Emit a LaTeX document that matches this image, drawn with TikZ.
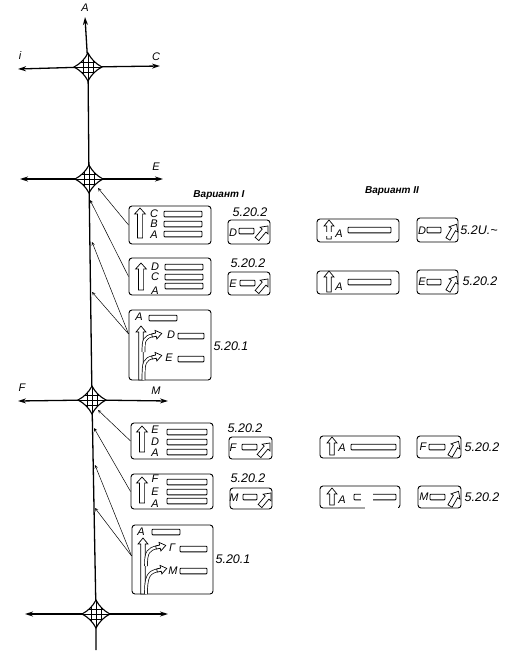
\documentclass[tikz,border=0pt]{standalone}
\usepackage{fontspec}
\usetikzlibrary{arrows.meta}
\setmainfont{Liberation Sans}
\newcommand{\signarrow}[5]{% x, y of foot, length, half width, angle
  \pgfmathsetmacro{\arrlen}{#3}
  \draw[sign,fill=white,shift={(#1,#2)},rotate=#5]
    (-#4,0) -- (-#4,-\arrlen+6) -- (-#4-2.8,-\arrlen+6) -- (0,-\arrlen) -- (#4+2.8,-\arrlen+6) -- (#4,-\arrlen+6) -- (#4,0) -- cycle;
}
\newcommand{\branch}[4]{% foot x, foot y, tip x, tip y
  \draw[sign,double=white,double distance=2.2pt] (#1,#2) .. controls (#1,#4+4) and (#3-16,#4+1) .. (#3-6,#4-1);
  \signarrow{#3-8}{#4-0.5}{10}{1.6}{-78}
}
\tikzset{
  road/.style={line width=1.3pt,>={Stealth[length=8pt,width=5pt]}},
  thinarrow/.style={->,line width=0.5pt},
  sign/.style={line width=0.7pt},
  bar/.style={line width=0.9pt,rounded corners=0.8pt},
  panel/.style={draw,line width=0.9pt,rounded corners=3pt,inner sep=0pt},
  letter/.style={font=\fontsize{11}{11}\selectfont\itshape,inner sep=0pt},
  code/.style={font=\fontsize{12.5}{12.5}\selectfont\itshape,inner sep=0pt},
  title/.style={font=\fontsize{10}{10}\selectfont\bfseries\itshape,inner sep=0pt},
  junction/.pic={
    \draw[fill=white,line width=1.1pt] (-14,0) .. controls (-8,-3) and (-3,-8) .. (0,-14)
      .. controls (3,-8) and (8,-3) .. (14,0) .. controls (8,3) and (3,8) .. (0,14)
      .. controls (-3,8) and (-8,3) .. (-14,0) -- cycle;
    \begin{scope}
      \clip (-14,0) .. controls (-8,-3) and (-3,-8) .. (0,-14)
        .. controls (3,-8) and (8,-3) .. (14,0) .. controls (8,3) and (3,8) .. (0,14)
        .. controls (-3,8) and (-8,3) .. (-14,0) -- cycle;
      \foreach \g in {-5,0,5} {
        \draw[line width=0.6pt] (\g,-14) -- (\g,14);
        \draw[line width=0.6pt] (-14,\g) -- (14,\g);
      }
    \end{scope}
  }
}
\begin{document}
\begin{tikzpicture}[>=stealth,x=1pt,y=-1pt]
  \useasboundingbox (0,0) rectangle (510,659);

  \coordinate (J1) at (88,67);
  \coordinate (J2) at (89,179);
  \coordinate (J3) at (92,400);
  \coordinate (J4) at (96,614);
  \coordinate (top) at (85,17);
  \coordinate (bottom) at (96,650);
  \coordinate (R1) at (98,188);
  \coordinate (R2) at (90,200);
  \coordinate (R3) at (92,242);
  \coordinate (R4) at (92,292);
  \coordinate (R5) at (98,410);
  \coordinate (R6) at (94,428);
  \coordinate (R7) at (95,465);
  \coordinate (R8) at (95,508);

  % roads
  \draw[road] (J1) -- (J2) -- (J3) -- (J4) -- (bottom);
  \draw[road,->] (J1) -- (top);
  \draw[road,->] (J1) -- (18,69);
  \draw[road,->] (J1) -- (160,66);
  \draw[road,->] (J2) -- (20,179);
  \draw[road,->] (J2) -- (163,179);
  \draw[road,->] (J3) -- (18,401);
  \draw[road,->] (J3) -- (168,401);
  \draw[road,->] (J4) -- (25,614);
  \draw[road,->] (J4) -- (168,614);
  \foreach \j in {J1,J2,J3,J4}
    \pic at (\j) {junction};

  % panels
  \foreach \n/\cx/\cy/\w/\h in {pa/170/225/82/38, pb/170/276.5/82/37, pc/170/345/82/70,
      pd/172/441/82/36, pe/172/491.5/82/35, pf/172.5/559.5/81/69,
      qa/249/232/42/24, qb/249/283.5/42/23, qd/250.5/448/43/22, qe/251/498.5/42/21,
      ra/358/230.5/82/23, rb/358/282.5/82/23, rc/360/447/80/22, rd/360/497/80/22,
      sa/437.5/230/41/24, sb/437.5/282/41/24, sc/439/447/44/22, sd/439.5/497/43/22}
    \node[panel,minimum width=\w,minimum height=\h] (\n) at (\cx,\cy) {};

  % arrows from the panels to the road
  \draw[thinarrow] (pa.west) -- (R1);
  \draw[thinarrow] (pb.west) -- (R2);
  \draw[thinarrow] (pc.165) -- (R3);
  \draw[thinarrow] (pc.165) -- (R4);
  \draw[thinarrow] (pd.west) -- (R5);
  \draw[thinarrow] (pe.west) -- (R6);
  \draw[thinarrow] (pf.175) -- (R7);
  \draw[thinarrow] (pf.175) -- (R8);

  % bars
  \foreach \xa/\xb/\y in {164/202/214, 164/202/224, 164/202/234, 165/203/267, 165/203/277, 165/203/286,
      149/177/318, 178/204/336, 178/204/359, 167/207/432, 167/207/442, 167/207/452,
      167/207/482, 167/207/492, 167/207/501, 152/180/532, 180/207/549, 180/207/571,
      239/254/231, 240/255/283, 242/257/447, 243/257/497,
      348/391/230, 348/391/282, 351/396/447, 354/396/497,
      427/441/230, 427/441/282, 429/445/447, 430/445/497}
    \draw[bar] (\xa,\y-2.8) rectangle (\xb,\y+2.8);

  % signs
  \foreach \x/\ya/\yb in {140/238/208, 141/290/263, 142/452/426, 142/503/477}
    {\signarrow{\x}{\ya}{\ya-\yb}{2.6}{0}}
  \foreach \x/\ya/\yb in {329/239/220, 329/292/271, 332/455/437, 332/505/488}
    {\signarrow{\x}{\ya}{\ya-\yb}{2.2}{0}}
  \foreach \x/\y in {257/239, 257/292, 259/456, 260/506}
    {\signarrow{\x}{\y}{17}{2.4}{-40}}
  \foreach \x/\y in {448/239, 448/291, 450/456, 450/506}
    {\signarrow{\x}{\y}{17}{2.4}{-30}}
  \signarrow{141}{380}{54}{2.2}{0}
  \branch{143.5}{352}{160}{336}
  \branch{143.5}{380}{160}{358}
  \signarrow{143}{594}{56}{2.2}{0}
  \branch{146}{566}{164}{548}
  \branch{146}{594}{165}{571}

  % worn out parts of the print
  \fill[white] (325,232) rectangle (334,236);
  \fill[white] (361,490) rectangle (373,505);
  \fill[white] (365,503.5) rectangle (398,510);

  % labels
  \foreach \x/\y/\t [count=\i] in {85/8/A, 20/56/i, 156/57/C, 156/167/E, 22/388/F, 156/391/M,
      154/214/C, 154/224/B, 154/235/A, 155/267/D, 155/277/C, 155/291/A,
      139/317/A, 171/335/D, 169/358/E, 155/430/E, 155/442/D, 155/453/A,
      155/479/F, 155/492/E, 155/504/A, 141/532/A, 172/548/Г, 173/571/M,
      233/233/D, 233/284/E, 233/448/F, 234/498/M, 339/234/A, 339/287/A, 342/448/A, 342/500/A,
      422/231/D, 422/282/E, 423/447/F, 424/497/M}
    \node[letter] (n\i) at (\x,\y) {\t};
  \foreach \x/\y/\t [count=\i] in {250/212/5.20.2, 248/263/5.20.2, 231/346/5.20.1, 245/428/5.20.2,
      248/478/5.20.2, 233/559/5.20.1, 479/230/5.2U.\textasciitilde, 480/281/5.20.2, 482/447/5.20.2, 482/497/5.20.2}
    \node[code] (c\i) at (\x,\y) {\t};
  \node[title] (varone) at (219,195) {Вариант I};
  \node[title] (vartwo) at (392,191) {Вариант II};
\end{tikzpicture}
\end{document}
